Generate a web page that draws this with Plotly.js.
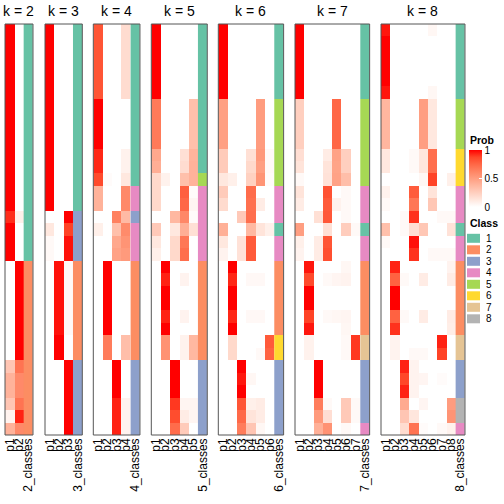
<!DOCTYPE html>
<html>
<head>
<meta charset="utf-8">
<script src="https://cdn.plot.ly/plotly-3.0.1.min.js"></script>
<style>html,body{margin:0;padding:0;background:#fff;}#chart{width:504px;height:504px;}</style>
</head>
<body>
<div id="chart"></div>
<script>
// ---------------- DATA ----------------
const kValues = [2, 3, 4, 5, 6, 7, 8];
const classColors = ["#66c2a5", "#fc8d62", "#8da0cb", "#e78ac3", "#a6d854", "#ffd92f", "#e5c494", "#b3b3b3"];
const classLabels = ["1", "2", "3", "4", "5", "6", "7", "8"];
const probTicks = [0, 0.5, 1];

const probK2 = [
  [1,0],[1,0],[1,0],[1,0],[1,0],[1,0],[1,0],[1,0],[1,0],[1,0],[1,0],[1,0],[1,0],[1,0],[1,0],
  [0.92,0.08],[1,0],[1,0],[1,0],
  [0,1],[0,1],[0,1],[0,1],[0,1],[0,1],[0,1],[0,1],
  [0.3,0.7],[0.4,0.6],[0.4,0.6],[0.3,0.7],[0.06,0.94],[0.4,0.6]
];
const classK2 = [1,1,1,1,1,1,1,1,1,1,1,1,1,1,1,1,1,1,1, 2,2,2,2,2,2,2,2, 2,2,2,2,2,2];

const probK3 = [
  [1,0,0],[1,0,0],[1,0,0],[1,0,0],[1,0,0],[1,0,0],[1,0,0],[1,0,0],[1,0,0],[1,0,0],[1,0,0],[1,0,0],[1,0,0],[1,0,0],[1,0,0],
  [0,0,1],[0.12,0,0.88],[0.03,0,0.97],[0.03,0,0.97],
  [0,0.97,0.03],[0,0.97,0.03],[0,0.97,0.03],[0,0.97,0.03],[0,0.97,0.03],[0,0.97,0.03],[0,1,0],[0,1,0],
  [0,0,1],[0,0,1],[0,0,1],[0,0,1],[0,0,1],[0,0,1]
];
const classK3 = [1,1,1,1,1,1,1,1,1,1,1,1,1,1,1, 3,3,3,3, 2,2,2,2,2,2,2,2, 3,3,3,3,3,3];

const probK4 = [
  [0.82,0,0,0.18],[0.82,0,0,0.18],[0.82,0,0,0.18],[0.82,0,0,0.18],[0.82,0,0,0.18],[0.82,0,0,0.18],
  [1,0,0,0],[1,0,0,0],[1,0,0,0],[1,0,0,0],
  [0.93,0,0,0.07],[0.93,0,0,0.07],[0.86,0.02,0,0.12],
  [0.4,0,0,0.6],[0.4,0,0,0.6],[0,0,0.64,0.36],[0.08,0,0.33,0.59],[0,0,0.45,0.55],[0,0,0.48,0.52],
  [0,1,0,0],[0,1,0,0],[0,1,0,0],[0,1,0,0],[0,1,0,0],[0,1,0,0],
  [0,0.66,0,0.34],[0,0.66,0,0.34],
  [0,0,1,0],[0,0,1,0],[0,0,1,0],[0,0,0.94,0.06],[0,0,0.94,0.06],[0,0,0.94,0.06]
];
const classK4 = [1,1,1,1,1,1,1,1,1,1,1,1,1, 4,4,3,4,4,4, 2,2,2,2,2,2,2,2, 3,3,3,3,3,3];

const probK5 = [
  [1,0,0,0,0],[1,0,0,0,0],[1,0,0,0,0],[1,0,0,0,0],[1,0,0,0,0],[1,0,0,0,0],
  [0.67,0,0,0,0.33],[0.67,0,0,0,0.33],[0.67,0,0,0,0.33],[0.67,0,0,0,0.33],
  [0.45,0,0,0.16,0.39],[0.42,0,0,0.18,0.4],[0.2,0.07,0,0.33,0.4],
  [0.2,0,0,0.78,0.02],[0.2,0,0,0.75,0.05],[0,0,0.37,0.61,0.02],[0.28,0,0.12,0.42,0.16],[0.12,0,0.2,0.68,0],[0.08,0,0.2,0.72,0],
  [0,1,0,0,0],[0,0.94,0,0.06,0],[0,1,0,0,0],[0,1,0,0,0],[0,0.94,0,0.06,0],[0,1,0,0,0],
  [0,0.56,0,0.07,0.37],[0,0.56,0,0.07,0.37],
  [0,0,1,0,0],[0,0,1,0,0],[0,0,1,0,0],[0,0,0.9,0.05,0.05],[0,0,0.85,0.1,0.05],[0,0,0.73,0.27,0]
];
const classK5 = [1,1,1,1,1,1,1,1,1,1,1,1, 5, 4,4,4,4,4,4, 2,2,2,2,2,2,2,2, 3,3,3,3,3,3];

const probK6 = [
  [1,0,0,0,0,0],[1,0,0,0,0,0],[1,0,0,0,0,0],[1,0,0,0,0,0],[1,0,0,0,0,0],[1,0,0,0,0,0],
  [0.49,0,0,0,0.51,0],[0.49,0,0,0,0.51,0],[0.49,0,0,0,0.51,0],[0.49,0,0,0,0.51,0],
  [0.27,0,0,0.16,0.53,0.03],[0.27,0,0,0.2,0.5,0.03],[0.12,0.08,0,0.24,0.55,0.02],
  [0.27,0,0,0.73,0,0],[0.19,0,0,0.71,0.1,0],[0,0,0.28,0.72,0,0],[0.41,0,0,0.37,0.14,0.08],
  [0.12,0,0.15,0.8,0,0],[0.06,0,0.15,0.8,0,0],
  [0,1,0,0,0,0],[0,0.93,0,0.035,0.035,0],[0,1,0,0,0,0],[0,1,0,0,0,0],[0,0.93,0,0.035,0.035,0],[0,1,0,0,0,0],
  [0,0.2,0,0,0,0.8],[0,0.2,0,0,0.03,0.77],
  [0,0,1,0,0,0],[0,0,0.96,0.04,0,0],[0,0,1,0,0,0],[0,0,0.82,0.08,0.1,0],[0,0,0.74,0.14,0.1,0],[0,0,0.66,0.3,0.04,0]
];
const classK6 = [1,1,1,1,1,1, 5,5,5,5,5,5,5, 4,4,4,1,4,4, 2,2,2,2,2,2, 6,6, 3,3,3,3,3,3];

const probK7 = [
  [1,0,0,0,0,0,0],[1,0,0,0,0,0,0],[1,0,0,0,0,0,0],[1,0,0,0,0,0,0],[1,0,0,0,0,0,0],[1,0,0,0,0,0,0],
  [0.25,0,0,0,0.75,0,0],[0.25,0,0,0,0.75,0,0],[0.25,0,0,0,0.75,0,0],[0.25,0,0,0,0.75,0,0],
  [0.17,0,0,0.1,0.48,0.25,0],[0.14,0,0,0.14,0.47,0.25,0],[0.03,0,0,0.15,0.48,0.34,0],
  [0.14,0,0,0.83,0,0.03,0],[0.1,0,0,0.8,0.07,0.03,0],[0,0,0.16,0.81,0,0.03,0],[0.5,0,0,0.16,0,0.26,0.03],
  [0.08,0,0.1,0.82,0,0,0],[0.06,0,0.1,0.84,0,0,0],
  [0,0.96,0,0,0,0.04,0],[0,0.86,0,0.03,0.05,0.06,0],[0,1,0,0,0,0,0],[0,1,0,0,0,0,0],[0,0.88,0,0.03,0.04,0.05,0],[0,0.96,0,0,0,0.04,0],
  [0,0.07,0,0,0,0.03,0.9],[0,0.07,0,0,0,0.03,0.9],
  [0,0,1,0,0,0,0],[0,0,1,0,0,0,0],[0,0,1,0,0,0,0],[0,0,0.66,0.03,0,0.28,0.03],[0,0,0.52,0.17,0,0.28,0.03],[0,0,0.41,0.56,0,0.03,0]
];
const classK7 = [1,1,1,1,1,1, 5,5,5,5,5,5,5, 4,4,4,1,4,4, 2,2,2,2,2,2, 7,7, 3,3,3,3,3,4];

const probK8 = [
  [0.96,0,0,0,0,0.04,0,0],[1,0,0,0,0,0,0,0],[1,0,0,0,0,0,0,0],[1,0,0,0,0,0,0,0],[1,0,0,0,0,0,0,0],[0.96,0,0,0,0,0.04,0,0],
  [0.38,0,0,0,0.5,0.12,0,0],[0.38,0,0,0,0.5,0.12,0,0],[0.38,0,0,0,0.5,0.12,0,0],[0.38,0,0,0,0.5,0.12,0,0],
  [0.12,0,0,0.03,0.13,0.72,0,0],[0.12,0,0,0.03,0.13,0.72,0,0],[0,0,0,0,0.04,0.88,0,0.08],
  [0.07,0,0,0.79,0,0.14,0,0],[0.03,0,0,0.68,0,0.29,0,0],[0,0,0.03,0.91,0,0,0.03,0.03],[0.33,0,0.03,0.17,0.29,0,0,0.15],
  [0.03,0,0,0.97,0,0,0,0],[0,0,0,0.91,0,0.03,0.03,0.03],
  [0,0.94,0,0,0,0,0,0.06],[0,0.77,0.03,0,0.1,0,0,0.1],[0,1,0,0,0,0,0,0],[0,1,0,0,0,0,0,0],[0,0.77,0.03,0,0.1,0,0,0.1],[0,0.91,0,0,0,0,0,0.09],
  [0,0.06,0,0,0,0,0.94,0],[0,0.06,0,0.03,0.03,0,0.88,0],
  [0,0,0.94,0.06,0,0,0,0],[0,0,0.87,0.06,0.05,0,0.02,0],[0,0,0.94,0.06,0,0,0,0],
  [0,0,0.44,0,0.05,0,0,0.51],[0,0,0.3,0.13,0,0,0,0.55],[0,0,0.18,0.7,0.02,0,0.03,0.07]
];
const classK8 = [1,1,1,1,1,1, 5,5,5,5, 6,6,6, 4,4,4,1,4,4, 2,2,2,2,2,2, 7,7, 3,3,3, 8,8, 4];

const probSets = [probK2, probK3, probK4, probK5, probK6, probK7, probK8];
const classSets = [classK2, classK3, classK4, classK5, classK6, classK7, classK8];

// ---------------- STYLE / LAYOUT ----------------
const W = 504, H = 504;
const plotTop = 24, plotBottom = 435;
const colW = 9.33;
const panelStarts = [5, 45, 93.3, 151.3, 218.3, 295, 381];
const fx = p => p / W;
const fy = p => (plotBottom - p) / (plotBottom - plotTop);

const probScale = [
  [0, "#ffffff"], [0.125, "#ffe7de"], [0.25, "#ffcfbf"], [0.375, "#ffb7a0"],
  [0.5, "#ff9e81"], [0.625, "#ff8463"], [0.75, "#ff6746"], [0.875, "#ff4628"], [1, "#ff0000"]
];
const classScale = [];
classColors.forEach((c, i) => {
  classScale.push([i / classColors.length, c]);
  classScale.push([(i + 1) / classColors.length, c]);
});

const nRows = probK2.length;
const rowIdx = Array.from({length: nRows}, (_, i) => i);
const FONT = "Liberation Sans, Arial, Helvetica, sans-serif";

const traces = [];
const layout = {
  width: W, height: H,
  margin: {l: 0, r: 0, t: plotTop, b: H - plotBottom, pad: 0},
  paper_bgcolor: "#ffffff", plot_bgcolor: "#ffffff",
  showlegend: false,
  font: {family: FONT, size: 12, color: "#000"},
  yaxis: {range: [nRows - 0.5, -0.5], showticklabels: false, showgrid: false, zeroline: false,
          showline: false, ticks: "", anchor: "x", domain: [0, 1], fixedrange: true},
  shapes: [], annotations: []
};

kValues.forEach((k, pi) => {
  const axName = pi === 0 ? "x" : "x" + (pi + 1);
  const layName = pi === 0 ? "xaxis" : "xaxis" + (pi + 1);
  const x0 = panelStarts[pi], x1 = x0 + (k + 1) * colW;
  const tickText = [];
  for (let j = 1; j <= k; j++) tickText.push("p" + j);
  tickText.push(k + "_classes");
  layout[layName] = {
    domain: [fx(x0), fx(x1)], anchor: "y", range: [-0.5, k + 0.5],
    tickmode: "array", tickvals: tickText.map((_, i) => i), ticktext: tickText,
    tickangle: -90, ticks: "", showgrid: false, zeroline: false, showline: false,
    tickfont: {family: FONT, size: 12, color: "#000"}, fixedrange: true
  };
  traces.push({
    type: "heatmap", xaxis: axName, yaxis: "y",
    x: Array.from({length: k}, (_, j) => j), y: rowIdx, z: probSets[pi],
    zmin: 0, zmax: 1, colorscale: probScale, hoverinfo: "skip",
    showscale: pi === kValues.length - 1,
    colorbar: {
      x: fx(469), xanchor: "left", xpad: 0, ypad: 0,
      y: fy(178.5), yanchor: "middle", lenmode: "pixels", len: 57,
      thickness: 13, outlinewidth: 0,
      tickmode: "array", tickvals: probTicks, ticktext: probTicks.map(String),
      ticks: "inside", ticklen: 3, tickcolor: "#ffffff", tickwidth: 1,
      tickfont: {family: FONT, size: 10, color: "#000"}
    }
  });
  traces.push({
    type: "heatmap", xaxis: axName, yaxis: "y",
    x: [k], y: rowIdx, z: classSets[pi].map(c => [c]),
    zmin: 0.5, zmax: classColors.length + 0.5, colorscale: classScale,
    showscale: false, hoverinfo: "skip"
  });
  layout.shapes.push({
    type: "rect", xref: "paper", yref: "paper",
    x0: fx(x0), x1: fx(x1), y0: 0, y1: 1,
    line: {color: "#555555", width: 1}, fillcolor: "rgba(0,0,0,0)"
  });
  layout.annotations.push({
    xref: "paper", yref: "paper", x: fx((x0 + x1) / 2), y: fy(10.5),
    xanchor: "center", yanchor: "middle", showarrow: false,
    text: "k = " + k, font: {family: FONT, size: 14, color: "#000"}
  });
});

// Legend titles
layout.annotations.push({
  xref: "paper", yref: "paper", x: fx(468), y: fy(140), xanchor: "left", yanchor: "middle",
  showarrow: false, text: "<b>Prob</b>", font: {family: FONT, size: 10.5, color: "#000"}
});
layout.annotations.push({
  xref: "paper", yref: "paper", x: fx(468), y: fy(223), xanchor: "left", yanchor: "middle",
  showarrow: false, text: "<b>Class</b>", font: {family: FONT, size: 10.5, color: "#000"}
});
classColors.forEach((c, i) => {
  const cy = 238.3 + 11.5 * i;
  layout.shapes.push({
    type: "rect", xref: "paper", yref: "paper",
    x0: fx(467), x1: fx(480), y0: fy(cy + 4.5), y1: fy(cy - 4.5),
    line: {width: 0}, fillcolor: c
  });
  layout.annotations.push({
    xref: "paper", yref: "paper", x: fx(484), y: fy(cy), xanchor: "left", yanchor: "middle",
    showarrow: false, text: classLabels[i], font: {family: FONT, size: 10, color: "#000"}
  });
});

Plotly.newPlot("chart", traces, layout, {staticPlot: true, displayModeBar: false});
</script>
</body>
</html>
